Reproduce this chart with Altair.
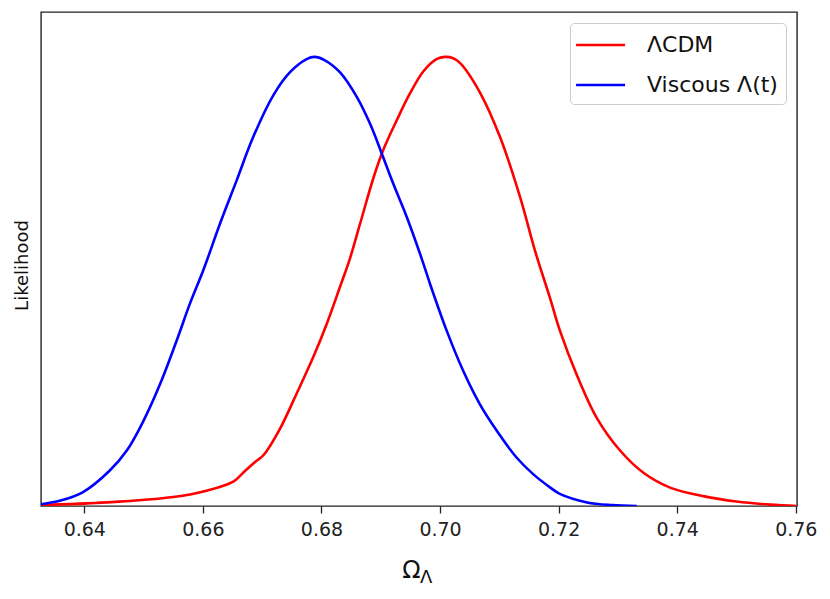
import altair as alt
import pandas as pd

# Viscous Lambda(t) series
blue_x = [0.6327, 0.6360, 0.6398, 0.6443, 0.6472, 0.6500, 0.6528, 0.6556, 0.6578, 0.6601,
          0.6629, 0.6657, 0.6685, 0.6719, 0.6747, 0.6775, 0.6788, 0.6805, 0.6831, 0.6860,
          0.6882, 0.6902, 0.6921, 0.6944, 0.6969, 0.6983, 0.7011, 0.7039, 0.7067, 0.7096,
          0.7129, 0.7157, 0.7186, 0.7202, 0.7248, 0.7290, 0.7332]
blue_y = [0.004, 0.012, 0.031, 0.079, 0.124, 0.190, 0.272, 0.369, 0.450, 0.526,
          0.629, 0.725, 0.822, 0.915, 0.966, 0.995, 1.000, 0.993, 0.966, 0.910,
          0.851, 0.784, 0.718, 0.643, 0.551, 0.495, 0.391, 0.301, 0.227, 0.167,
          0.108, 0.071, 0.041, 0.027, 0.008, 0.002, 0.000]

# LambdaCDM series
red_x = [0.6327, 0.6438, 0.6550, 0.6606, 0.6652, 0.6671, 0.6690, 0.6702, 0.6730, 0.6758,
         0.6786, 0.6809, 0.6831, 0.6848, 0.6865, 0.6888, 0.6904, 0.6927, 0.6949, 0.6972,
         0.6994, 0.7008, 0.7022, 0.7034, 0.7068, 0.7101, 0.7135, 0.7160, 0.7185, 0.7202,
         0.7230, 0.7264, 0.7304, 0.7343, 0.7388, 0.7444, 0.7500, 0.7557, 0.7602]
red_y = [0.002, 0.008, 0.020, 0.034, 0.055, 0.078, 0.100, 0.113, 0.172, 0.250,
         0.331, 0.406, 0.487, 0.551, 0.628, 0.732, 0.792, 0.859, 0.918, 0.968,
         0.995, 1.000, 0.997, 0.986, 0.919, 0.822, 0.688, 0.569, 0.465, 0.391,
         0.294, 0.197, 0.123, 0.074, 0.041, 0.022, 0.010, 0.003, 0.000]

series_names = ["ΛCDM", "Viscous Λ(t)"]
series_colors = ["#ff0000", "#0000ff"]
x_ticks = [0.64, 0.66, 0.68, 0.70, 0.72, 0.74, 0.76]
x_domain = [0.6327, 0.7602]

df = pd.concat([
    pd.DataFrame({"x": red_x, "y": red_y, "series": series_names[0], "order": range(len(red_x))}),
    pd.DataFrame({"x": blue_x, "y": blue_y, "series": series_names[1], "order": range(len(blue_x))}),
])

FONT = "DejaVu Sans"

lines = alt.Chart(df).mark_line(strokeWidth=2.6, interpolate="catmull-rom", clip=True).encode(
    x=alt.X("x:Q",
            scale=alt.Scale(domain=x_domain, nice=False, zero=False),
            axis=alt.Axis(values=x_ticks, format=".2f", title="Ω",
                          titleX=370, titleY=71, titleBaseline="alphabetic",
                          titleAlign="center", titleFontSize=24, titleFontWeight="normal",
                          labelFontSize=19, labelPadding=7, tickSize=7, tickWidth=1.3,
                          tickColor="#222222", domain=False, grid=False,
                          labelColor="#222222", titleColor="#111111", labelFont=FONT,
                          titleFont=FONT)),
    y=alt.Y("y:Q",
            scale=alt.Scale(domain=[0, 1.1], nice=False, zero=True),
            axis=alt.Axis(title="Likelihood", labels=False, ticks=False, domain=False,
                          grid=False, titleX=-14, titleY=253, titleBaseline="alphabetic",
                          titleAlign="center", titleAngle=270, titleFontSize=18,
                          titleFontWeight="normal", titleColor="#111111", titleFont=FONT)),
    color=alt.Color("series:N",
                    scale=alt.Scale(domain=series_names, range=series_colors),
                    legend=alt.Legend(title=None, orient="top-right", offset=11,
                                      padding=8, strokeColor="#cccccc", fillColor="white",
                                      cornerRadius=4, symbolType="M-1.3,0H2.7",
                                      symbolSize=600, symbolStrokeWidth=2.6,
                                      labelFontSize=22, labelFont=FONT, labelColor="#111111",
                                      labelOffset=41, rowPadding=15, labelLimit=400)),
    order="order:Q",
)

sub = alt.Chart(pd.DataFrame({"t": ["Λ"]})).mark_text(
    fontSize=18, font=FONT, align="left", baseline="alphabetic", color="#111111"
).encode(
    text="t:N",
    x=alt.value(379),
    y=alt.value(571),
)

chart = alt.layer(lines, sub).properties(
    width=756, height=494,
    padding={"left": 33, "top": 4, "right": 25, "bottom": 80},
    autosize=alt.AutoSizeParams(type="none"),
    background="white",
).configure_view(stroke="#222222", strokeWidth=1.4)

chart.save("out.html", embed_options={"renderer": "svg", "actions": False})
